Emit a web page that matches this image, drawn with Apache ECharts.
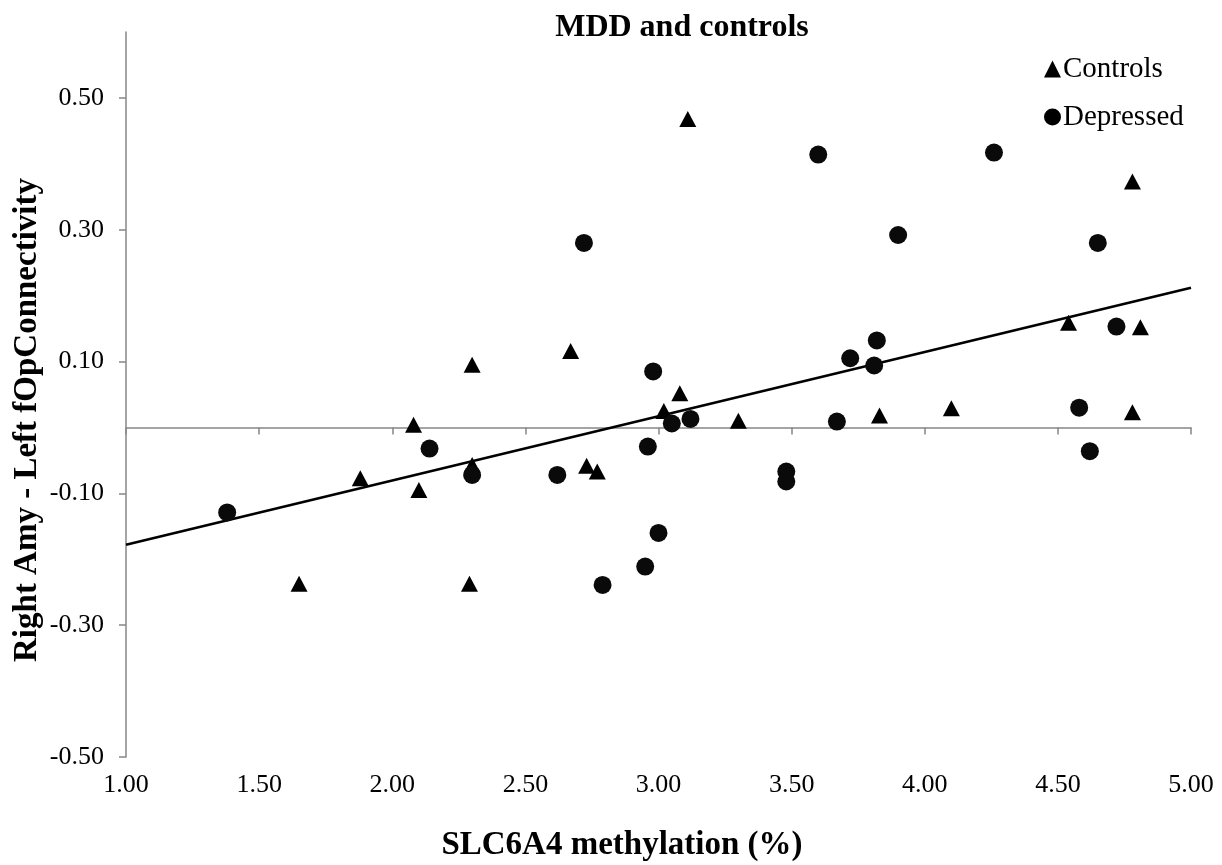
<!DOCTYPE html>
<html>
<head>
<meta charset="utf-8">
<script src="https://cdn.jsdelivr.net/npm/echarts@6/dist/echarts.min.js"></script>
<style>
html,body{margin:0;padding:0;background:#fff;}
#chart{width:1222px;height:865px;}
</style>
</head>
<body>
<div id="chart"></div>
<script>
// ---- data ----
var controlsX = [1.65, 1.88, 2.08, 2.10, 2.30, 2.30, 2.29, 2.67, 2.73, 2.77, 3.02, 3.08, 3.11, 3.30, 3.83, 4.10, 4.54, 4.81, 4.78, 4.78];
var controlsY = [-0.237, -0.077, 0.004, -0.095, 0.095, -0.057, -0.237, 0.116, -0.058, -0.067, 0.025, 0.052, 0.468, 0.010, 0.018, 0.029, 0.159, 0.152, 0.023, 0.373];
var depressedX = [1.38, 2.14, 2.30, 2.62, 2.98, 2.96, 3.05, 3.12, 3.00, 2.95, 2.79, 2.72, 3.48, 3.48, 3.60, 3.67, 3.72, 3.82, 3.81, 3.90, 4.26, 4.58, 4.62, 4.72, 4.65];
var depressedY = [-0.129, -0.032, -0.072, -0.072, 0.085, -0.029, 0.006, 0.013, -0.160, -0.211, -0.239, 0.280, -0.067, -0.082, 0.414, 0.009, 0.105, 0.132, 0.094, 0.292, 0.417, 0.030, -0.036, 0.153, 0.280];
var trendX = [1.0, 5.0];
var trendY = [-0.178, 0.212];
var xTicks = [1.0, 1.5, 2.0, 2.5, 3.0, 3.5, 4.0, 4.5, 5.0];
var yTicks = [-0.5, -0.3, -0.1, 0.1, 0.3, 0.5];
var seriesNames = ['Controls', 'Depressed'];
var chartTitle = 'MDD and controls';
var xTitle = 'SLC6A4 methylation (%)';
var yTitle = 'Right Amy - Left fOpConnectivity';

function zip(a, b) { return a.map(function (v, i) { return [v, b[i]]; }); }

var FONT = '"Liberation Serif", "Times New Roman", serif';
var AXIS_COLOR = '#878787';

var chart = echarts.init(document.getElementById('chart'), null, {renderer: 'canvas'});
chart.setOption({
  backgroundColor: '#ffffff',
  animation: false,
  title: {
    text: chartTitle,
    left: 677,
    top: 7,
    textAlign: 'center',
    textStyle: {fontFamily: FONT, fontSize: 32, fontWeight: 'bold', color: '#000'}
  },
  legend: {
    orient: 'vertical',
    left: 1039,
    top: 49,
    itemWidth: 17,
    itemHeight: 17,
    itemGap: 18,
    itemStyle: {color: '#000'},
    textStyle: {fontFamily: FONT, fontSize: 29, color: '#000', lineHeight: 30, padding: [0, 0, 0, -3]},
    data: [
      {name: seriesNames[0], icon: 'triangle'},
      {name: seriesNames[1], icon: 'circle'}
    ]
  },
  grid: {left: 126, right: 31, top: 32, bottom: 108, containLabel: false},
  xAxis: [
    {
      type: 'value', min: 1, max: 5, interval: 0.5, position: 'bottom',
      axisLine: {show: false, onZero: false},
      axisTick: {show: false},
      splitLine: {show: false},
      axisLabel: {
        customValues: xTicks,
        margin: 15,
        fontFamily: FONT, fontSize: 26, color: '#000',
        formatter: function (v) { return Number(v).toFixed(2); }
      }
    },
    {
      type: 'value', min: 1, max: 5, interval: 0.5, position: 'bottom',
      axisLine: {show: true, onZero: true, onZeroAxisIndex: 0, lineStyle: {color: AXIS_COLOR, width: 1.5}},
      axisTick: {show: true, inside: false, length: 7, customValues: xTicks, lineStyle: {color: AXIS_COLOR, width: 1.5}},
      axisLabel: {show: false},
      splitLine: {show: false}
    }
  ],
  yAxis: {
    type: 'value', min: -0.5, max: 0.6,
    axisLine: {show: true, onZero: false, lineStyle: {color: AXIS_COLOR, width: 1.5}},
    axisTick: {show: true, length: 7, customValues: yTicks, lineStyle: {color: AXIS_COLOR, width: 1.5}},
    splitLine: {show: false},
    axisLabel: {
      customValues: yTicks,
      margin: 22,
      fontFamily: FONT, fontSize: 26, color: '#000',
      formatter: function (v) { return Number(v).toFixed(2); }
    }
  },
  graphic: [
    {
      type: 'text', x: 27, y: 420, rotation: Math.PI / 2,
      style: {text: yTitle, fontFamily: FONT, fontSize: 33, fontWeight: 'bold', fill: '#000', align: 'center', verticalAlign: 'middle'}
    },
    {
      type: 'text', x: 622, y: 845,
      style: {text: xTitle, fontFamily: FONT, fontSize: 33, fontWeight: 'bold', fill: '#000', align: 'center', verticalAlign: 'middle'}
    }
  ],
  series: [
    {
      name: 'Trend', type: 'line', xAxisIndex: 0, data: zip(trendX, trendY),
      showSymbol: false, symbol: 'none', silent: true, z: 1,
      lineStyle: {color: '#000', width: 2.6}
    },
    {
      name: seriesNames[0], type: 'scatter', xAxisIndex: 0, data: zip(controlsX, controlsY),
      symbol: 'triangle', symbolSize: [17, 16], z: 3,
      itemStyle: {color: '#000', opacity: 1}
    },
    {
      name: seriesNames[1], type: 'scatter', xAxisIndex: 0, data: zip(depressedX, depressedY),
      symbol: 'circle', symbolSize: 18, z: 3,
      itemStyle: {color: '#0a0a0a', opacity: 1}
    }
  ]
});
</script>
</body>
</html>
